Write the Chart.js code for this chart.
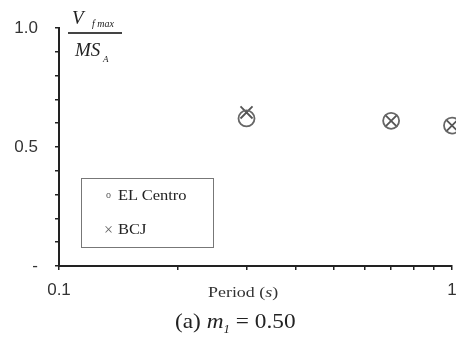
<!DOCTYPE html>
<html>
<head>
<meta charset="utf-8">
<script src="https://cdn.jsdelivr.net/npm/chart.js@4/dist/chart.umd.min.js"></script>
<style>
  html, body { margin: 0; padding: 0; background: #fff; }
  #wrap { position: relative; width: 456px; height: 338px; overflow: hidden; }
  canvas { position: absolute; left: 0; top: 0; }
  .t { position: absolute; font-family: "Liberation Serif", "DejaVu Serif", serif; color: #222; white-space: nowrap; transform-origin: 0 0; }
  .i { font-style: italic; }
  #legend { position: absolute; left: 81px; top: 178px; width: 133px; height: 70px; border: 1.5px solid #777; box-sizing: border-box; }
</style>
</head>
<body>
<div id="wrap">
  <canvas id="c" width="456" height="338"></canvas>
  <!-- y-axis title: V_fmax / MS_A -->
  <div class="t i" style="left:72px; top:7px; font-size:19px;">V</div>
  <div class="t i" style="left:92px; top:18px; font-size:10px;">f max</div>
  <div style="position:absolute; left:68px; top:32px; width:54px; height:1.5px; background:#444;"></div>
  <div class="t i" style="left:75px; top:39px; font-size:19px;">MS</div>
  <div class="t i" style="left:103px; top:54px; font-size:9px;">A</div>
  <!-- legend -->
  <div id="legend"></div>
  <div class="t" style="left:106px; top:189px; font-size:10px; color:#555;">o</div>
  <div class="t" style="left:118px; top:187px; font-size:15px; transform:scaleX(1.1);">EL Centro</div>
  <div class="t" style="left:104px; top:221px; font-size:16px; color:#666;">×</div>
  <div class="t" style="left:118px; top:221px; font-size:15px; transform:scaleX(1.1);">BCJ</div>
  <!-- x-axis title and caption -->
  <div class="t" style="left:208px; top:285px; font-size:14px; color:#333; transform:scaleX(1.28);">Period (<span class="i">s</span>)</div>
  <div class="t" style="left:175px; top:308px; font-size:22px; transform:scaleX(1.06);">(a) <span class="i">m<sub style="font-size:12px;">1</sub></span> = 0.50</div>
</div>
<script>
// ---- data ----
const periods = [0.3, 0.7, 1.0];
const elCentro = [0.62, 0.61, 0.59];
const bcj = [0.645, 0.61, 0.59];
const xTickValues = [0.1, 0.2, 0.3, 0.4, 0.5, 0.6, 0.7, 0.8, 0.9, 1];
const xTickLabels = [[0.1, "0.1"], [1, "1"]];
const yTickLabels = [[0, "-"], [0.5, "0.5"], [1.0, "1.0"]];

function pts(xs, ys) { return xs.map((x, i) => ({ x: x, y: ys[i] })); }

new Chart(document.getElementById('c'), {
  type: 'scatter',
  data: {
    datasets: [
      {
        label: 'EL Centro',
        data: pts(periods, elCentro),
        pointStyle: 'circle',
        pointRadius: 8,
        pointBorderWidth: 1.8,
        pointBorderColor: '#666',
        pointBackgroundColor: 'rgba(0,0,0,0)',
        clip: false
      },
      {
        label: 'BCJ',
        data: pts(periods, bcj),
        pointStyle: 'crossRot',
        pointRadius: 8.5,
        pointBorderWidth: 1.8,
        pointBorderColor: '#555',
        clip: false
      }
    ]
  },
  options: {
    responsive: false,
    animation: false,
    devicePixelRatio: 1,
    layout: { autoPadding: false, padding: { top: 28, right: 4, left: 0, bottom: 0 } },
    plugins: { legend: { display: false }, tooltip: { enabled: false } },
    scales: {
      x: {
        type: 'logarithmic',
        min: 0.1,
        max: 1,
        border: { display: true, color: '#222', width: 2 },
        grid: { drawOnChartArea: false, drawTicks: true, tickLength: 4, color: '#222', lineWidth: 1.5 },
        afterBuildTicks: function (s) { s.ticks = xTickValues.map(v => ({ value: v })); },
        ticks: {
          autoSkip: false,
          maxRotation: 0,
          padding: 10,
          color: '#333',
          font: { family: 'Liberation Sans, Arial, sans-serif', size: 17 },
          callback: function (v) {
            for (const p of xTickLabels) { if (Math.abs(v - p[0]) < 1e-9) return p[1]; }
            return '';
          }
        },
        afterFit: function (s) { s.height = 72; s.paddingRight = 0; s.paddingLeft = 0; }
      },
      y: {
        min: 0,
        max: 1,
        border: { display: true, color: '#222', width: 2 },
        grid: { drawOnChartArea: false, drawTicks: true, tickLength: 4, color: '#222', lineWidth: 1.5 },
        ticks: {
          stepSize: 0.1,
          autoSkip: false,
          padding: 17,
          color: '#333',
          font: { family: 'Liberation Sans, Arial, sans-serif', size: 17 },
          callback: function (v) {
            for (const p of yTickLabels) { if (Math.abs(v - p[0]) < 1e-9) return p[1]; }
            return '';
          }
        },
        afterFit: function (s) { s.width = 59; s.paddingTop = 0; s.paddingBottom = 0; }
      }
    }
  }
});
</script>
</body>
</html>
